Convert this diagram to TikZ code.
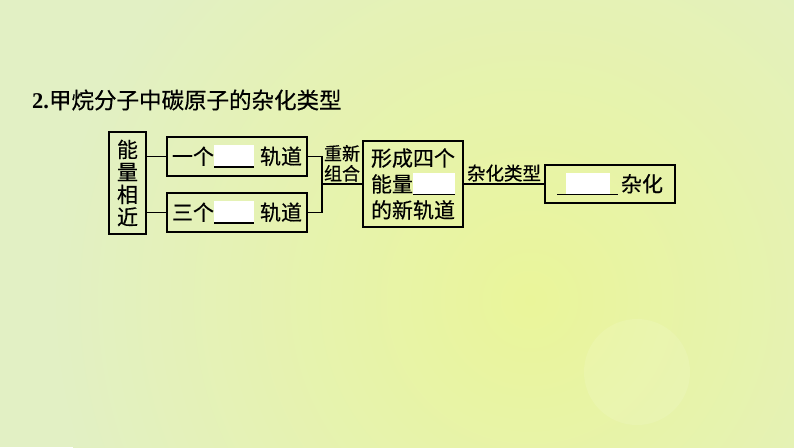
\documentclass[tikz,border=0pt]{standalone}
\usepackage{fontspec}
\setmainfont{Liberation Serif}
\newfontfamily\cjkfont[FakeBold=0.5]{Noto Sans CJK SC}
\usetikzlibrary{positioning, calc}
\definecolor{bgbase}{HTML}{E2F0C4}
\definecolor{bgglow}{HTML}{EAF59A}
\newcommand{\boxfont}{\cjkfont\fontsize{21pt}{22.5pt}\selectfont}
\newcommand{\tagfont}{\cjkfont\fontsize{18pt}{20pt}\selectfont}
\newcommand{\titlefont}{\fontsize{22.5pt}{24pt}\selectfont}
\newcommand{\blankline}[1]{\rlap{\textcolor{white}{\rule[-2pt]{#1}{21pt}}}\rule[-3.5pt]{#1}{1.6pt}}
\tikzset{
	chainbox/.style={draw, line width=1.8pt, inner sep=0pt, font=\boxfont, align=center},
	link/.style={line width=1.8pt},
	tag/.style={font=\tagfont, align=center, inner sep=1.5pt},
}

\begin{document}
\begin{tikzpicture}[x=1pt, y=-1pt]
	% background
	\useasboundingbox (0,0) rectangle (794,447);
	\begin{scope}
		\clip (0,0) rectangle (794,447);
		\fill[bgbase] (0,0) rectangle (794,447);
		\shade[inner color=bgglow, outer color=bgbase] (530,300) circle (480);
		\fill[white, opacity=0.1] (637,372) circle (53);
	\end{scope}

	\node[anchor=west, inner sep=0pt] (title) at (32,100) {\titlefont\textbf{2.}{\cjkfont 甲烷分子中碳原子的杂化类型}};

	\node[chainbox, minimum width=37, minimum height=102] (close) at (127.5,183) {能\\量\\相\\近};
	\node[chainbox, minimum width=140, minimum height=39] (one) at (237,156.5) {一个\blankline{40pt}\hspace{6pt}轨道};
	\node[chainbox, minimum width=140, minimum height=39] (three) at (237,212.5) {三个\blankline{40pt}\hspace{6pt}轨道};
	\node[chainbox, minimum width=100, minimum height=86, font=\cjkfont\fontsize{21pt}{26pt}\selectfont] (newfour) at (413,184) {形成四个\\能量\blankline{42pt}\\的新轨道};
	\node[chainbox, minimum width=130, minimum height=38] (hybrid) at (610,184)
		{\rlap{\hspace{9pt}\textcolor{white}{\rule[-2pt]{44pt}{21pt}}}\rule[-3.5pt]{61pt}{1.6pt}\hspace{3pt}杂化};

	\draw[link] (close.east |- one) -- (one.west);
	\draw[link] (close.east |- three) -- (three.west);
	\draw[link] (one.east) -- ++(14,0) coordinate (brk) |- (three.east);
	\draw[link] (brk |- newfour.west) -- node[tag, midway, above] {重新\\组合} (newfour.west);
	\draw[link] (newfour.east) -- node[tag, midway, above, font=\cjkfont\fontsize{18.5pt}{20pt}\selectfont] {杂化类型} (hybrid.west);
\end{tikzpicture}
\end{document}
